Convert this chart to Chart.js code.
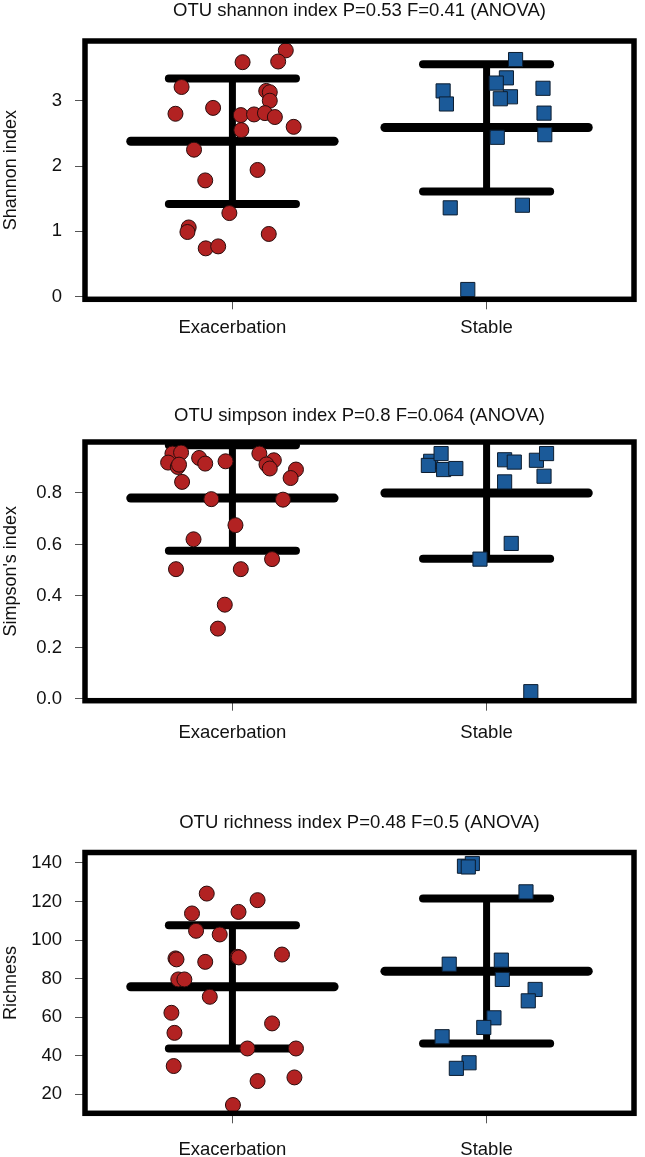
<!DOCTYPE html>
<html>
<head>
<meta charset="utf-8">
<script src="https://cdn.jsdelivr.net/npm/chart.js@4.4.1/dist/chart.umd.min.js"></script>
<style>
    body { margin: 0; background: #fff; width: 645px; height: 1157px; overflow: hidden; position: relative; }
    canvas { position: absolute; left: 0; }
</style>
</head>
<body>
<canvas id="shannon" width="645" height="401" style="top:0px"></canvas>
<canvas id="simpson" width="645" height="411" style="top:401px"></canvas>
<canvas id="richness" width="645" height="345" style="top:812px"></canvas>
<script>
// groups
let categories = ['Exacerbation', 'Stable'];

// Shannon index
let shannonExacX = [1.21, 1.18, 1.04, 0.80, 1.133, 1.147, 1.147, 0.924, 0.776, 1.033, 1.085, 1.128, 1.167, 1.241, 1.035, 0.849, 1.099, 0.893, 0.988, 0.828, 0.823, 1.143, 0.895, 0.944];
let shannonExacY = [3.77, 3.60, 3.59, 3.21, 3.15, 3.13, 3.00, 2.89, 2.80, 2.78, 2.79, 2.81, 2.75, 2.60, 2.55, 2.25, 1.94, 1.78, 1.28, 1.06, 0.99, 0.96, 0.74, 0.77];
let shannonStabX = [2.114, 2.078, 2.038, 1.829, 2.222, 1.842, 2.094, 2.054, 2.226, 2.042, 2.229, 1.857, 2.141, 1.926];
let shannonStabY = [3.63, 3.35, 3.27, 3.15, 3.19, 2.95, 3.06, 3.03, 2.81, 2.44, 2.48, 1.36, 1.40, 0.11];
let shannonMean = [2.38, 2.59];
let shannonUpper = [3.34, 3.56];
let shannonLower = [1.42, 1.61];
let shannonTicks = [0, 1, 2, 3];
let shannonTickLabels = ['0', '1', '2', '3'];

// Simpson's index
let simpsonExacX = [0.764, 0.798, 0.747, 0.785, 0.869, 0.893, 0.973, 1.106, 1.163, 1.134, 1.147, 1.250, 1.229, 0.802, 0.917, 1.199, 1.012, 0.847, 1.156, 0.778, 1.033, 0.970, 0.943, 0.79];
let simpsonExacY = [0.953, 0.957, 0.918, 0.901, 0.936, 0.914, 0.923, 0.953, 0.927, 0.911, 0.895, 0.891, 0.858, 0.843, 0.776, 0.774, 0.675, 0.620, 0.543, 0.504, 0.504, 0.366, 0.273, 0.91];
let simpsonStabX = [1.780, 1.771, 1.821, 1.831, 1.879, 2.071, 2.109, 2.196, 2.236, 2.226, 2.071, 2.097, 1.974, 2.174];
let simpsonStabY = [0.923, 0.907, 0.953, 0.891, 0.895, 0.929, 0.920, 0.927, 0.953, 0.865, 0.843, 0.604, 0.543, 0.028];
let simpsonMean = [0.78, 0.80];
let simpsonUpper = [0.985, 1.056];
let simpsonLower = [0.576, 0.544];
let simpsonTicks = [0, 0.2, 0.4, 0.6, 0.8];
let simpsonTickLabels = ['0.0', '0.2', '0.4', '0.6', '0.8'];

// Richness
let richExacX = [0.899, 1.099, 0.841, 1.024, 0.857, 0.950, 0.776, 0.893, 1.021, 1.195, 0.787, 0.811, 0.911, 0.760, 0.772, 1.156, 1.059, 1.250, 0.769, 1.099, 1.244, 1.002, 1.025, 0.780];
let richExacY = [124.1, 120.7, 113.8, 114.6, 104.8, 102.9, 90.5, 88.7, 91.3, 92.5, 79.6, 79.6, 70.6, 62.3, 51.9, 56.8, 43.8, 43.8, 34.7, 26.9, 28.8, 14.5, 91.0, 90.0];
let richStabX = [1.913, 1.944, 1.928, 2.155, 1.853, 2.058, 2.062, 2.191, 2.164, 2.029, 1.989, 1.825, 1.931, 1.881];
let richStabY = [138.3, 139.7, 137.9, 125.0, 87.5, 89.6, 79.6, 74.4, 68.5, 59.7, 54.7, 49.9, 36.4, 33.5];
let richMean = [75.8, 83.9];
let richUpper = [107.7, 121.5];
let richLower = [43.8, 46.4];
let richTicks = [20, 40, 60, 80, 100, 120, 140];
let richTickLabels = ['20', '40', '60', '80', '100', '120', '140'];

const FONT = "'Liberation Sans', Arial, Helvetica, sans-serif";
const INK = '#111';

function pts(xs, ys) {
    return xs.map((x, i) => ({ x: x, y: ys[i] }));
}

// mean / sd bars, under the points
const errorBars = {
    id: 'errorBars',
    beforeDatasetsDraw(chart, args, opts) {
        const { ctx, chartArea: a, scales: { x, y } } = chart;
        ctx.save();
        ctx.beginPath();
        ctx.rect(a.left, a.top, a.right - a.left, a.bottom - a.top);
        ctx.clip();
        ctx.strokeStyle = '#000';
        const hline = (v, cx, half, w) => {
            const py = y.getPixelForValue(v);
            ctx.lineWidth = w;
            ctx.lineCap = 'round';
            ctx.beginPath();
            ctx.moveTo(x.getPixelForValue(cx - half), py);
            ctx.lineTo(x.getPixelForValue(cx + half), py);
            ctx.stroke();
        };
        opts.mean.forEach((m, i) => {
            const cx = i + 1;
            const px = x.getPixelForValue(cx);
            ctx.lineWidth = 7;
            ctx.lineCap = 'butt';
            ctx.beginPath();
            ctx.moveTo(px, y.getPixelForValue(opts.upper[i]));
            ctx.lineTo(px, y.getPixelForValue(opts.lower[i]));
            ctx.stroke();
            hline(m, cx, 0.4, 9);
            hline(opts.upper[i], cx, 0.25, 8);
            hline(opts.lower[i], cx, 0.25, 8);
        });
        ctx.restore();
    }
};

// thick box around the plot region
const frame = {
    id: 'frame',
    afterDatasetsDraw(chart) {
        const { ctx, chartArea: a } = chart;
        ctx.save();
        ctx.strokeStyle = '#000';
        ctx.lineWidth = 5.5;
        ctx.lineJoin = 'miter';
        ctx.strokeRect(a.left, a.top, a.right - a.left, a.bottom - a.top);
        ctx.restore();
    }
};

function makePanel(id, p) {
    const ctx = document.getElementById(id).getContext('2d');
    return new Chart(ctx, {
        type: 'scatter',
        data: {
            datasets: [
                {
                    label: categories[0],
                    data: pts(p.exacX, p.exacY),
                    pointStyle: 'circle',
                    pointRadius: 7.5,
                    backgroundColor: '#B22222',
                    borderColor: '#2a0c0c',
                    borderWidth: 1
                },
                {
                    label: categories[1],
                    data: pts(p.stabX, p.stabY),
                    pointStyle: 'rect',
                    pointRadius: 10,
                    backgroundColor: '#1B5A99',
                    borderColor: '#0c1d30',
                    borderWidth: 1
                }
            ]
        },
        options: {
            responsive: false,
            animation: false,
            layout: { padding: { left: 0, right: 4, top: 0, bottom: 0 } },
            scales: {
                x: {
                    type: 'linear',
                    min: 0.42,
                    max: 2.58,
                    afterBuildTicks: (s) => { s.ticks = [1, 2].map(v => ({ value: v })); },
                    afterFit: (s) => { s.height = p.xHeight; },
                    grid: { display: true, drawOnChartArea: false, drawTicks: true, tickLength: 10, color: '#555', lineWidth: 1 },
                    border: { display: false },
                    ticks: {
                        callback: (v, i) => categories[i],
                        font: { family: FONT, size: 18.5 },
                        color: INK,
                        padding: p.labelPad,
                        maxRotation: 0,
                        autoSkip: false
                    }
                },
                y: {
                    min: p.yMin,
                    max: p.yMax,
                    afterBuildTicks: (s) => { s.ticks = p.ticks.map(v => ({ value: v })); },
                    afterFit: (s) => { s.width = 85; },
                    grid: { display: true, drawOnChartArea: false, drawTicks: true, tickLength: 10, color: '#555', lineWidth: 1 },
                    border: { display: false },
                    ticks: {
                        callback: (v, i) => p.tickLabels[i],
                        font: { family: FONT, size: 18.5 },
                        color: INK,
                        padding: 13
                    },
                    title: {
                        display: true,
                        text: p.yTitle,
                        font: { family: FONT, size: 18 },
                        color: INK,
                        padding: { top: 0, bottom: 0 }
                    }
                }
            },
            plugins: {
                legend: { display: false },
                tooltip: { enabled: false },
                title: {
                    display: true,
                    fullSize: false,
                    text: p.title,
                    font: { family: FONT, size: 18.5, weight: 'normal' },
                    color: INK,
                    padding: p.titlePad
                },
                errorBars: { mean: p.mean, upper: p.upper, lower: p.lower }
            }
        },
        plugins: [errorBars, frame]
    });
}

makePanel('shannon', {
    title: 'OTU shannon index P=0.53 F=0.41 (ANOVA)',
    yTitle: 'Shannon index',
    exacX: shannonExacX, exacY: shannonExacY, stabX: shannonStabX, stabY: shannonStabY,
    mean: shannonMean, upper: shannonUpper, lower: shannonLower,
    ticks: shannonTicks, tickLabels: shannonTickLabels,
    yMin: -0.04, yMax: 3.914,
    titlePad: { top: 0.1, bottom: 18.7 }, xHeight: 101.7, labelPad: 7.6
});

makePanel('simpson', {
    title: 'OTU simpson index P=0.8 F=0.064 (ANOVA)',
    yTitle: "Simpson's index",
    exacX: simpsonExacX, exacY: simpsonExacY, stabX: simpsonStabX, stabY: simpsonStabY,
    mean: simpsonMean, upper: simpsonUpper, lower: simpsonLower,
    ticks: simpsonTicks, tickLabels: simpsonTickLabels,
    yMin: -0.007, yMax: 0.998,
    titlePad: { top: 3.6, bottom: 15.2 }, xHeight: 111.3, labelPad: 11.2
});

makePanel('richness', {
    title: 'OTU richness index P=0.48 F=0.5 (ANOVA)',
    yTitle: 'Richness',
    exacX: richExacX, exacY: richExacY, stabX: richStabX, stabY: richStabY,
    mean: richMean, upper: richUpper, lower: richLower,
    ticks: richTicks, tickLabels: richTickLabels,
    yMin: 10.2, yMax: 145.4,
    titlePad: { top: 0.2, bottom: 18.1 }, xHeight: 43.7, labelPad: 15.6
});
</script>
</body>
</html>
